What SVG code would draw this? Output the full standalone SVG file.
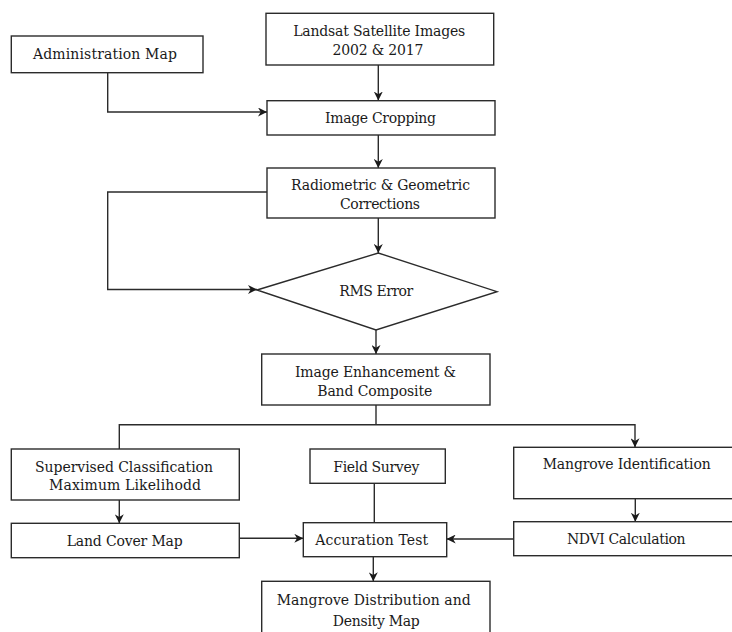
<svg xmlns="http://www.w3.org/2000/svg" width="732" height="632" viewBox="0 0 732 632">
<style>
.box{fill:#fff;stroke:#2b2b2b;stroke-width:1.4}
.t{font-family:"DejaVu Serif","Liberation Serif",serif;font-size:14px;fill:#1a1a1a;text-anchor:middle}
.c{fill:none;stroke:#2b2b2b;stroke-width:1.4}
.a{marker-end:url(#arr)}
</style>
<defs>
<marker id="arr" viewBox="0 0 10 10" refX="10" refY="5" markerWidth="9" markerHeight="9" markerUnits="userSpaceOnUse" orient="auto">
<path d="M0,0 L10,5 L0,10 L3,5 z" fill="#1a1a1a"/>
</marker>
</defs>
<rect width="732" height="632" fill="#fff"/>
<g id="connectors">
<path class="c a" d="M378.3,65 V100.5"/>
<path class="c a" d="M107.7,73 V112 H267"/>
<path class="c a" d="M378.3,135 V168"/>
<path class="c a" d="M267,192 H107.7 V289.5 H257"/>
<path class="c a" d="M378.3,218 V253"/>
<path class="c a" d="M376,330 V354"/>
<path class="c" d="M376,405 V424.7"/>
<path class="c a" d="M119.3,449 V424.7 H635 V447.3"/>
<path class="c a" d="M119.3,500 V523.3"/>
<path class="c a" d="M239.3,538.3 H303.3"/>
<path class="c" d="M374.3,483.3 V522.7"/>
<path class="c a" d="M635.3,498.7 V521.7"/>
<path class="c a" d="M513.7,539 H446.7"/>
<path class="c a" d="M373.3,556.7 V581.3"/>
</g>
<g id="landsat">
<rect class="box" x="266" y="13.3" width="227.7" height="51.7"/>
<text class="t" x="379.2" y="35.5" textLength="172">Landsat Satellite Images</text>
<text class="t" x="378" y="54.5" textLength="91">2002 &amp; 2017</text>
</g>
<g id="admin">
<rect class="box" x="11.3" y="36" width="191.7" height="36.7"/>
<text class="t" x="105" y="58.5" textLength="144">Administration Map</text>
</g>
<g id="cropping">
<rect class="box" x="267" y="100.7" width="228" height="34.3"/>
<text class="t" x="380.5" y="122.5" textLength="111">Image Cropping</text>
</g>
<g id="radiometric">
<rect class="box" x="267" y="168" width="228" height="50"/>
<text class="t" x="380.5" y="190" textLength="179">Radiometric &amp; Geometric</text>
<text class="t" x="380" y="208.5" textLength="80">Corrections</text>
</g>
<g id="rms">
<polygon class="box" points="257,290 378.3,253 497,291.7 376,330"/>
<text class="t" x="376.3" y="295.5" textLength="74">RMS Error</text>
</g>
<g id="enhancement">
<rect class="box" x="261.7" y="354" width="228.3" height="51"/>
<text class="t" x="375.5" y="376.5" textLength="161">Image Enhancement &amp;</text>
<text class="t" x="374.7" y="395.5" textLength="115">Band Composite</text>
</g>
<g id="supervised">
<rect class="box" x="11.3" y="449" width="228" height="51"/>
<text class="t" x="124" y="471.5" textLength="178">Supervised Classification</text>
<text class="t" x="125" y="490" textLength="152">Maximum Likelihodd</text>
</g>
<g id="field">
<rect class="box" x="310" y="449" width="135.3" height="34.3"/>
<text class="t" x="376.3" y="471.5" textLength="86">Field Survey</text>
</g>
<g id="mangroveid">
<rect class="box" x="513.7" y="447.3" width="230" height="51.4"/>
<text class="t" x="626.7" y="469" textLength="168">Mangrove Identification</text>
</g>
<g id="landcover">
<rect class="box" x="11.3" y="523.3" width="228" height="34.4"/>
<text class="t" x="124.7" y="545.5" textLength="116">Land Cover Map</text>
</g>
<g id="accuration">
<rect class="box" x="303.3" y="522.7" width="143.4" height="34"/>
<text class="t" x="371.7" y="545" textLength="113">Accuration Test</text>
</g>
<g id="ndvi">
<rect class="box" x="513.7" y="521.7" width="230" height="34"/>
<text class="t" x="626.3" y="543.5" textLength="118.7">NDVI Calculation</text>
</g>
<g id="distribution">
<rect class="box" x="261.7" y="581.3" width="228.3" height="60"/>
<text class="t" x="373.7" y="605" textLength="194">Mangrove Distribution and</text>
<text class="t" x="376.3" y="626" textLength="87">Density Map</text>
</g>
</svg>
